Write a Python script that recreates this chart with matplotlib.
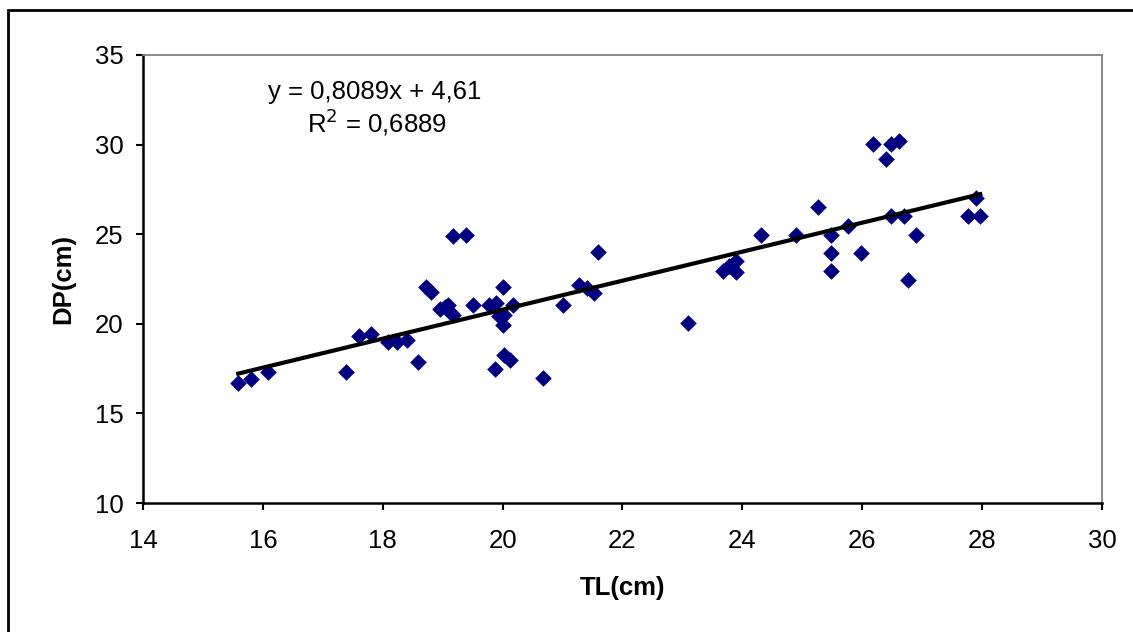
import numpy as np
import matplotlib.pyplot as plt
from matplotlib.patches import Rectangle

# Dados: comprimento total (TL) e DP, em cm
tl = [15.59, 15.80, 16.09, 17.38, 17.60, 17.80, 18.09, 18.23, 18.40, 18.59,
      18.72, 18.81, 18.95, 19.04, 19.09, 19.14, 19.17, 19.17, 19.39, 19.50,
      19.78, 19.89, 19.88, 19.94, 20.00, 20.00, 20.03, 20.03, 20.12, 20.17,
      20.67, 21.00, 21.28, 21.40, 21.52, 21.60, 23.10, 23.67, 23.78, 23.90,
      23.90, 24.31, 24.90, 25.27, 25.48, 25.48, 25.48, 25.77, 25.98, 26.18,
      26.39, 26.48, 26.62, 26.48, 26.70, 26.76, 26.90, 27.77, 27.90, 27.97]
dp = [16.72, 16.93, 17.33, 17.33, 19.30, 19.41, 19.00, 19.00, 19.10, 17.86,
      22.07, 21.80, 20.80, 20.96, 21.05, 20.60, 20.50, 24.88, 24.97, 21.05,
      21.05, 21.14, 17.50, 20.42, 22.06, 19.96, 20.50, 18.28, 18.00, 21.05,
      16.97, 21.03, 22.14, 22.00, 21.74, 24.00, 20.04, 22.94, 23.20, 23.50,
      22.90, 24.98, 24.98, 26.50, 24.98, 23.95, 22.93, 25.47, 23.95, 30.05,
      29.17, 30.05, 30.18, 26.00, 26.00, 22.47, 24.98, 26.00, 27.00, 26.00]

# Linha de tendência mostrada no gráfico
slope = 0.8089
intercept = 4.61
r2 = 0.6889

xticks = [14, 16, 18, 20, 22, 24, 26, 28, 30]
yticks = [10, 15, 20, 25, 30, 35]

plt.rcParams['font.family'] = ['Liberation Sans', 'DejaVu Sans']
fs = 18.5

fig = plt.figure(figsize=(11.33, 6.32), dpi=100)
ax = fig.add_axes([0.1262, 0.2041, 0.9726 - 0.1262, 0.913 - 0.2041])

# moldura externa do gráfico
fig.patches.append(Rectangle((8 / 1133, -0.05), 1.1, 1 - 10 / 632 + 0.05,
                             transform=fig.transFigure, fill=False,
                             edgecolor='black', linewidth=2))

ax.scatter(tl, dp, marker='D', s=72, color='#000080', zorder=3, linewidths=0)

x_line = np.array([min(tl), max(tl)])
ax.plot(x_line, slope * x_line + intercept, color='black', linewidth=3, zorder=4)

ax.text(0.242, 0.902, 'y = 0,8089x + 4,61', transform=ax.transAxes,
        ha='center', va='baseline', fontsize=fs)
ax.text(0.244, 0.826, 'R$^2$ = 0,6889', transform=ax.transAxes,
        ha='center', va='baseline', fontsize=fs)

ax.set_xlim(14, 30)
ax.set_ylim(10, 35)
ax.set_xticks(xticks)
ax.set_yticks(yticks)
ax.tick_params(direction='out', length=5, width=1.5, labelsize=fs)
ax.tick_params(axis='x', pad=13.5)
ax.tick_params(axis='y', pad=9)

ax.set_xlabel('TL(cm)', fontsize=fs, fontweight='bold', labelpad=17)
ax.set_ylabel('DP(cm)', fontsize=fs, fontweight='bold', labelpad=14)

for side in ['left', 'bottom']:
    ax.spines[side].set_linewidth(1.8)
    ax.spines[side].set_color('black')
for side in ['top', 'right']:
    ax.spines[side].set_linewidth(1.3)
    ax.spines[side].set_color('#808080')

plt.savefig('out.png', dpi=100)
